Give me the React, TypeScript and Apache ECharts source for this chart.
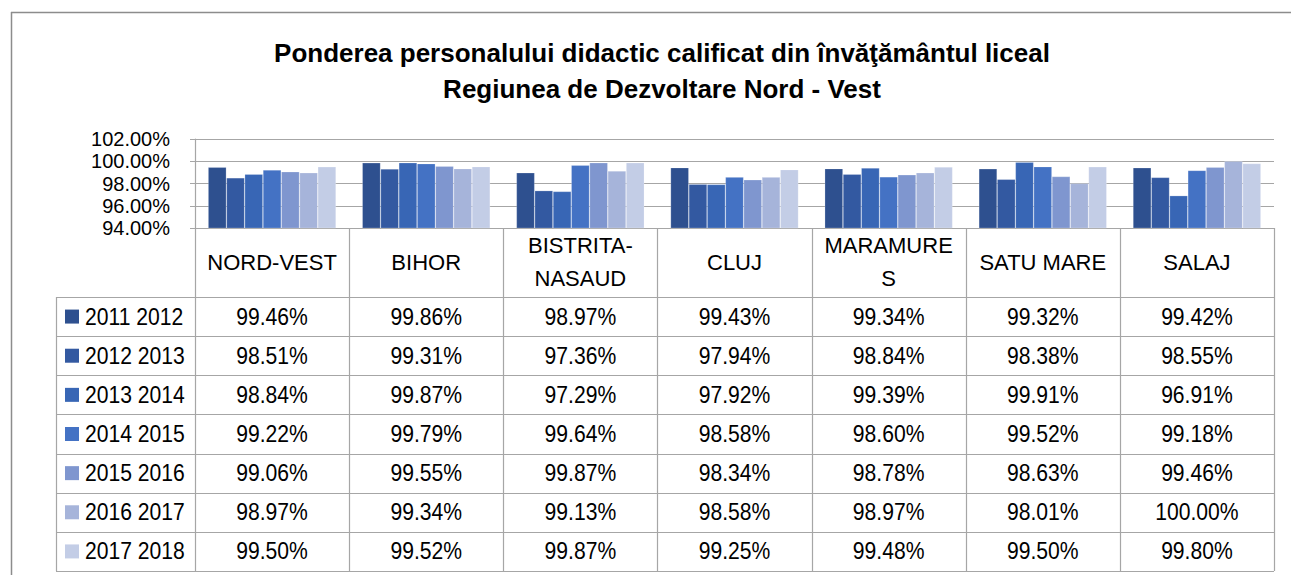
import React, { useEffect, useRef } from "react";
import * as echarts from "echarts";

const categories = ["NORD-VEST", "BIHOR", "BISTRITA-\nNASAUD", "CLUJ", "MARAMURE\nS", "SATU MARE", "SALAJ"];
const seriesNames = ["2011 2012", "2012 2013", "2013 2014", "2014 2015", "2015 2016", "2016 2017", "2017 2018"];
const s2011 = [99.46, 99.86, 98.97, 99.43, 99.34, 99.32, 99.42];
const s2012 = [98.51, 99.31, 97.36, 97.94, 98.84, 98.38, 98.55];
const s2013 = [98.84, 99.87, 97.29, 97.92, 99.39, 99.91, 96.91];
const s2014 = [99.22, 99.79, 99.64, 98.58, 98.6, 99.52, 99.18];
const s2015 = [99.06, 99.55, 99.87, 98.34, 98.78, 98.63, 99.46];
const s2016 = [98.97, 99.34, 99.13, 98.58, 98.97, 98.01, 100.0];
const s2017 = [99.5, 99.52, 99.87, 99.25, 99.48, 99.5, 99.8];
const seriesValues = [s2011, s2012, s2013, s2014, s2015, s2016, s2017];
const yTicks = [94, 96, 98, 100, 102];

const colors = ["#2E508F", "#3359A1", "#3866B5", "#4472C4", "#7F96CF", "#A6B4DA", "#C3CDE6"];
const FONT = "'Liberation Sans Narrow', 'Arial Narrow', 'Liberation Sans', Arial, sans-serif";
const GRID_COLOR = "#A6A6A6";

export default function App() {
  const ref = useRef<HTMLDivElement>(null);
  useEffect(() => {
    if (!ref.current) return;
    const chart = echarts.init(ref.current, null, { renderer: "svg" });

    const gridLeft = 195;
    const gridRight = 1274;
    const gridTop = 139;
    const gridBottom = 228;
    const colW = (gridRight - gridLeft) / categories.length;
    const headerBottom = 297;
    const tableBottom = 571;
    const rowH = (tableBottom - headerBottom) / seriesNames.length;
    const legendLeft = 56;

    const graphics: any[] = [];
    // outer frame
    graphics.push({ type: "line", shape: { x1: 11, y1: 12.5, x2: 1291, y2: 12.5 }, style: { stroke: "#8C8C8C", lineWidth: 1.5 } });
    graphics.push({ type: "line", shape: { x1: 11.5, y1: 12, x2: 11.5, y2: 575 }, style: { stroke: "#8C8C8C", lineWidth: 1.5 } });

    // table horizontal lines
    for (let r = 0; r <= seriesNames.length; r++) {
      const y = Math.round(headerBottom + r * rowH) + 0.5;
      graphics.push({ type: "line", shape: { x1: legendLeft, y1: y, x2: gridRight, y2: y }, style: { stroke: GRID_COLOR, lineWidth: 1.2 } });
    }
    // vertical lines
    for (let c = 0; c <= categories.length; c++) {
      const x = Math.round(gridLeft + c * colW) + 0.5;
      graphics.push({ type: "line", shape: { x1: x, y1: gridBottom, x2: x, y2: tableBottom }, style: { stroke: GRID_COLOR, lineWidth: 1.2 } });
    }
    graphics.push({ type: "line", shape: { x1: legendLeft + 0.5, y1: headerBottom, x2: legendLeft + 0.5, y2: tableBottom }, style: { stroke: GRID_COLOR, lineWidth: 1.2 } });

    // legend keys and values
    seriesNames.forEach((name, r) => {
      const cy = headerBottom + (r + 0.5) * rowH;
      graphics.push({ type: "rect", shape: { x: 65, y: cy - 7, width: 14, height: 14 }, style: { fill: colors[r] } });
      graphics.push({
        type: "text",
        x: 85,
        y: cy,
        scaleX: 0.88,
        style: { text: name, font: `24px ${FONT}`, fill: "#000", textAlign: "left", textVerticalAlign: "middle" },
      });
      seriesValues[r].forEach((v, c) => {
        graphics.push({
          type: "text",
          x: gridLeft + (c + 0.5) * colW,
          y: cy,
          scaleX: 0.88,
          style: { text: v.toFixed(2) + "%", font: `24px ${FONT}`, fill: "#000", textAlign: "center", textVerticalAlign: "middle" },
        });
      });
    });

    chart.setOption({
      animation: false,
      title: {
        text: "Ponderea personalului didactic calificat din învăţământul liceal\nRegiunea de Dezvoltare Nord - Vest",
        left: 657,
        textAlign: "center",
        top: 30,
        textStyle: { fontFamily: FONT, fontSize: 26, fontWeight: "bold", lineHeight: 36, color: "#000" },
      },
      grid: { left: gridLeft, top: gridTop, width: gridRight - gridLeft, height: gridBottom - gridTop },
      xAxis: {
        type: "category",
        data: categories,
        axisLine: { show: true, lineStyle: { color: GRID_COLOR, width: 1.2 } },
        axisTick: { show: false },
        axisLabel: {
          interval: 0,
          margin: 34,
          verticalAlign: "middle",
          fontFamily: FONT,
          fontSize: 22,
          lineHeight: 33,
          color: "#000",
        },
      },
      yAxis: {
        type: "value",
        min: yTicks[0],
        max: yTicks[yTicks.length - 1],
        interval: 2,
        axisLine: { show: true, lineStyle: { color: GRID_COLOR, width: 1.2 } },
        axisTick: { show: true, length: 5, lineStyle: { color: GRID_COLOR } },
        splitLine: { show: true, lineStyle: { color: GRID_COLOR, width: 1.2 } },
        axisLabel: {
          margin: 25,
          showMinLabel: true,
          showMaxLabel: true,
          fontFamily: FONT,
          fontSize: 20,
          lineHeight: 20,
          color: "#000",
          formatter: (v: number) => v.toFixed(2) + "%",
        },
      },
      series: seriesNames.map((name, i) => ({
        name,
        type: "bar",
        data: seriesValues[i],
        barGap: "0%",
        barCategoryGap: "17%",
        itemStyle: { color: colors[i], borderColor: "rgba(255,255,255,0.35)", borderWidth: 0.6 },
      })),
      graphic: graphics,
    });

    return () => chart.dispose();
  }, []);

  return <div ref={ref} style={{ position: "absolute", left: 0, top: 0, width: 1291, height: 575, background: "#fff" }} />;
}
